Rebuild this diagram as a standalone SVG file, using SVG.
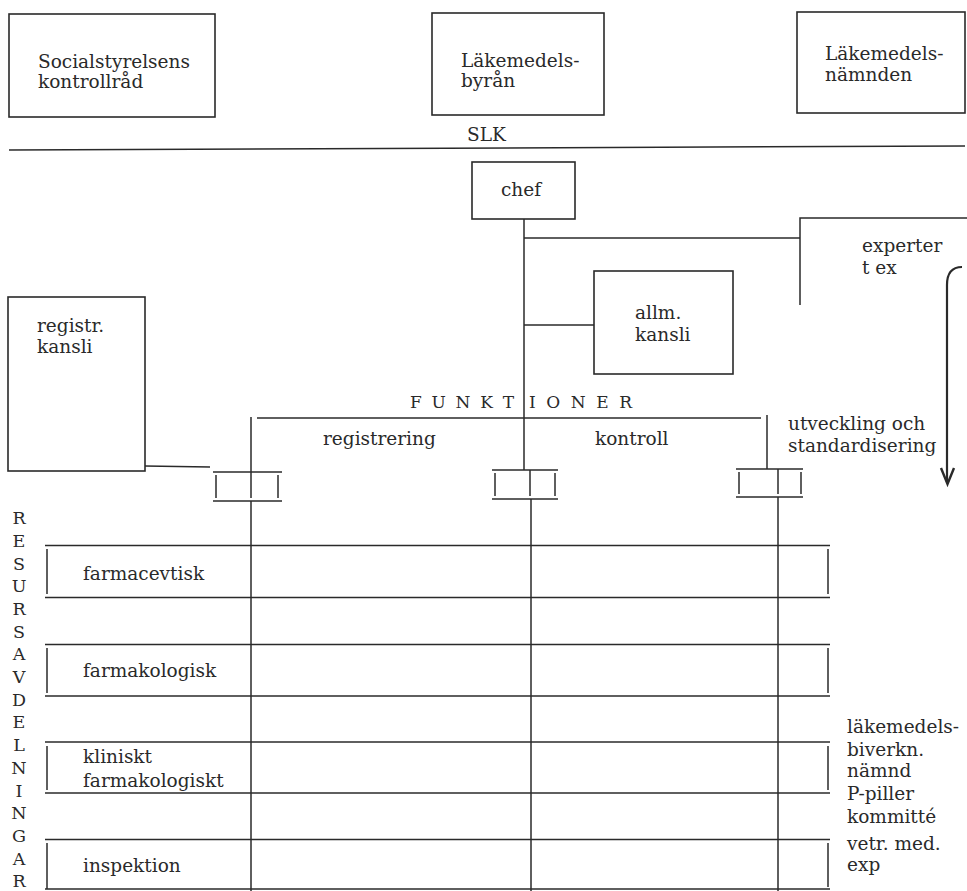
<svg xmlns="http://www.w3.org/2000/svg" width="967" height="891" viewBox="0 0 967 891">
<style>
  .bg { fill: #ffffff; }
  .box { fill: none; stroke: #2a2a2a; stroke-width: 1.6; }
  .ln { fill: none; stroke: #2a2a2a; stroke-width: 1.5; }
  .t { font-family: "DejaVu Serif", "Liberation Serif", serif; font-size: 18.5px; fill: #2a2a2a; }
  .cap { font-family: "DejaVu Serif", "Liberation Serif", serif; font-size: 17px; fill: #2a2a2a; }
  .vl { font-family: "DejaVu Serif", "Liberation Serif", serif; font-size: 17.5px; fill: #2a2a2a; text-anchor: middle; }
</style>
<rect class="bg" x="0" y="0" width="967" height="891"/>

<g id="socialstyrelsens-kontrollrad">
  <rect class="box" x="9" y="14" width="206" height="103"/>
  <text class="t" x="38" y="68">Socialstyrelsens</text>
  <text class="t" x="38" y="88">kontrollråd</text>
</g>
<g id="lakemedelsbyran">
  <rect class="box" x="432" y="13" width="172" height="102"/>
  <text class="t" x="461" y="67">Läkemedels-</text>
  <text class="t" x="461" y="87">byrån</text>
</g>
<g id="lakemedelsnamnden">
  <rect class="box" x="797" y="12" width="168" height="101"/>
  <text class="t" x="825" y="60">Läkemedels-</text>
  <text class="t" x="825" y="81">nämnden</text>
</g>
<g id="slk">
  <text class="t" x="467" y="141">SLK</text>
  <line class="ln" x1="9" y1="150" x2="965" y2="146"/>
</g>

<g id="chef">
  <rect class="box" x="472" y="162" width="103" height="57"/>
  <text class="t" x="501" y="196">chef</text>
</g>
<g id="experter">
  <text class="t" x="862" y="252">experter</text>
  <text class="t" x="862" y="274">t ex</text>
</g>
<g id="allm-kansli">
  <rect class="box" x="594" y="271" width="139" height="103"/>
  <text class="t" x="635" y="319">allm.</text>
  <text class="t" x="635" y="341">kansli</text>
</g>
<g id="registr-kansli">
  <rect class="box" x="8" y="297" width="137" height="174"/>
  <text class="t" x="37" y="332">registr.</text>
  <text class="t" x="37" y="353">kansli</text>
</g>

<g id="funktioner">
  <text class="cap" x="410" y="408" textLength="104" lengthAdjust="spacing">FUNKT</text>
  <text class="cap" x="529" y="408" textLength="103" lengthAdjust="spacing">IONER</text>
  <text class="t" x="323" y="445">registrering</text>
  <text class="t" x="595" y="445">kontroll</text>
  <text class="t" x="788" y="430">utveckling och</text>
  <text class="t" x="788" y="452">standardisering</text>
</g>

<g id="func-registrering">
  <line class="ln" x1="213" y1="472" x2="282" y2="472"/>
  <line class="ln" x1="213" y1="501" x2="282" y2="501"/>
  <line class="ln" x1="216" y1="475" x2="216" y2="498"/>
  <line class="ln" x1="251" y1="472" x2="251" y2="498"/>
  <line class="ln" x1="278" y1="475" x2="278" y2="498"/>
</g>
<g id="func-kontroll">
  <line class="ln" x1="492" y1="470" x2="558" y2="470"/>
  <line class="ln" x1="492" y1="499" x2="558" y2="499"/>
  <line class="ln" x1="495" y1="473" x2="495" y2="496"/>
  <line class="ln" x1="530" y1="470" x2="530" y2="496"/>
  <line class="ln" x1="555" y1="473" x2="555" y2="496"/>
</g>
<g id="func-utveckling">
  <line class="ln" x1="736" y1="469" x2="803" y2="469"/>
  <line class="ln" x1="736" y1="497" x2="803" y2="497"/>
  <line class="ln" x1="739" y1="472" x2="739" y2="494"/>
  <line class="ln" x1="778" y1="469" x2="778" y2="494"/>
  <line class="ln" x1="801" y1="472" x2="801" y2="494"/>
</g>

<g id="resursavdelningar">
  <text class="vl" x="19" y="524">R</text>
  <text class="vl" x="19" y="547">E</text>
  <text class="vl" x="19" y="570">S</text>
  <text class="vl" x="19" y="592">U</text>
  <text class="vl" x="19" y="615">R</text>
  <text class="vl" x="19" y="638">S</text>
  <text class="vl" x="19" y="660">A</text>
  <text class="vl" x="19" y="683">V</text>
  <text class="vl" x="19" y="706">D</text>
  <text class="vl" x="19" y="728">E</text>
  <text class="vl" x="19" y="751">L</text>
  <text class="vl" x="19" y="774">N</text>
  <text class="vl" x="19" y="797">I</text>
  <text class="vl" x="19" y="819">N</text>
  <text class="vl" x="19" y="842">G</text>
  <text class="vl" x="19" y="865">A</text>
  <text class="vl" x="19" y="887">R</text>
</g>

<g id="row-farmacevtisk">
  <line class="ln" x1="45" y1="545.5" x2="830" y2="545.5"/>
  <line class="ln" x1="45" y1="597.5" x2="830" y2="597.5"/>
  <line class="ln" x1="47" y1="549" x2="47" y2="594"/>
  <line class="ln" x1="828" y1="549" x2="828" y2="594"/>
  <text class="t" x="83" y="580">farmacevtisk</text>
</g>
<g id="row-farmakologisk">
  <line class="ln" x1="45" y1="644.5" x2="830" y2="644.5"/>
  <line class="ln" x1="45" y1="696" x2="830" y2="696"/>
  <line class="ln" x1="47" y1="648" x2="47" y2="693"/>
  <line class="ln" x1="828" y1="648" x2="828" y2="693"/>
  <text class="t" x="83" y="677">farmakologisk</text>
</g>
<g id="row-kliniskt">
  <line class="ln" x1="45" y1="742" x2="830" y2="742"/>
  <line class="ln" x1="45" y1="793" x2="830" y2="793"/>
  <line class="ln" x1="47" y1="746" x2="47" y2="790"/>
  <line class="ln" x1="828" y1="746" x2="828" y2="790"/>
  <text class="t" x="83" y="763">kliniskt</text>
  <text class="t" x="83" y="787">farmakologiskt</text>
</g>
<g id="row-inspektion">
  <line class="ln" x1="45" y1="839.5" x2="830" y2="839.5"/>
  <line class="ln" x1="45" y1="889" x2="830" y2="889"/>
  <line class="ln" x1="47" y1="843" x2="47" y2="889"/>
  <line class="ln" x1="828" y1="843" x2="828" y2="887"/>
  <text class="t" x="83" y="872">inspektion</text>
</g>

<g id="namnder">
  <text class="t" x="847" y="733">läkemedels-</text>
  <text class="t" x="847" y="756">biverkn.</text>
  <text class="t" x="847" y="777">nämnd</text>
  <text class="t" x="847" y="800">P-piller</text>
  <text class="t" x="847" y="823">kommitté</text>
  <text class="t" x="847" y="850">vetr. med.</text>
  <text class="t" x="847" y="871">exp</text>
</g>

<g id="connectors">
  <line class="ln" x1="524" y1="219" x2="524" y2="470"/>
  <line class="ln" x1="524" y1="238" x2="800" y2="238"/>
  <path class="ln" d="M800,305 V218 H967"/>
  <line class="ln" x1="524" y1="325" x2="594" y2="325"/>
  <line class="ln" x1="145" y1="466" x2="210" y2="467"/>
  <line class="ln" x1="251" y1="417" x2="251" y2="472"/>
  <line class="ln" x1="257" y1="418" x2="761" y2="418"/>
  <line class="ln" x1="767" y1="415" x2="767" y2="469"/>
  <line class="ln" x1="251" y1="501" x2="251" y2="891"/>
  <line class="ln" x1="531" y1="499" x2="531" y2="891"/>
  <line class="ln" x1="778" y1="497" x2="778" y2="891"/>
  <path class="ln" style="stroke-width:2.2" d="M962,267 Q947,267 947,285 V482"/>
  <polyline class="ln" style="stroke-width:2.4" points="941,468 947.5,484 954,468"/>
</g>
</svg>
